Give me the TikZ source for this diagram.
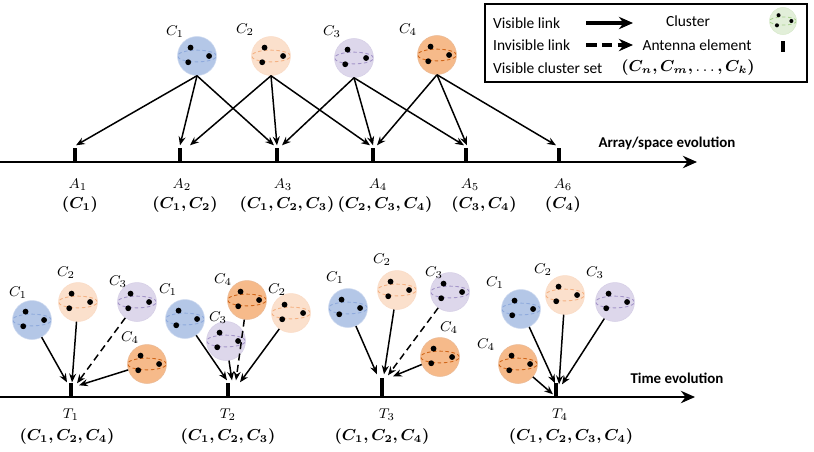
\documentclass[tikz,border=0pt]{standalone}
\usepackage{fontspec}
\setmainfont{Carlito}
\usepackage{amsmath,bm}
\usetikzlibrary{arrows.meta,calc,positioning}

\definecolor{cblue}{HTML}{B4C7E7}
\definecolor{cblued}{HTML}{8FAADC}
\definecolor{cpeach}{HTML}{FBE0CC}
\definecolor{cpeachd}{HTML}{F4B183}
\definecolor{corange}{HTML}{F6BA8A}
\definecolor{coranged}{HTML}{D0661A}
\definecolor{cviolet}{HTML}{DDD7EB}
\definecolor{cvioletd}{HTML}{A394C8}
\definecolor{cgreen}{HTML}{E2EFD9}
\definecolor{cgreend}{HTML}{A9D18E}

\tikzset{
  clus/.style n args={3}{circle, inner sep=0pt, minimum size=2*#3, fill=#1, draw=#2!45, line width=0.3pt,
    path picture={
      \draw[#2, line width=0.5pt, dash pattern=on 2pt off 1.5pt] (path picture bounding box.center) ellipse ({#3} and {0.3*#3});
      \fill[black] ([shift={(-0.33*#3,0.43*#3)}]path picture bounding box.center) circle ({0.15*#3});
      \fill[black] ([shift={(0.62*#3,0cm)}]path picture bounding box.center) circle ({0.15*#3});
      \fill[black] ([shift={(-0.45*#3,-0.32*#3)}]path picture bounding box.center) circle ({0.15*#3});
    }},
  cb/.style={clus={cblue}{cblued}{0.39cm}},
  cp/.style={clus={cpeach}{cpeachd}{0.39cm}},
  co/.style={clus={corange}{coranged}{0.39cm}},
  cv/.style={clus={cviolet}{cvioletd}{0.39cm}},
  cg/.style={clus={cgreen}{cgreend}{0.27cm}},
  ant/.style={fill=black, inner sep=0pt, minimum width=0.075cm, minimum height=0.28cm, anchor=south},
  axis/.style={line width=1.3pt, -{Stealth[length=8pt,width=7pt]}},
  vis/.style={line width=0.85pt, -{Stealth[length=5pt,width=4pt]}},
  invis/.style={vis, dash pattern=on 4pt off 2.5pt},
  legarr/.style={line width=1.8pt, -{Stealth[length=8pt,width=7pt]}},
  lbl/.style={font=\fontsize{8.5}{9}\selectfont, inner sep=1pt},
  sett/.style={font=\fontsize{9}{10}\selectfont, inner sep=1pt},
  txt/.style={font=\fontsize{8.8}{10}\selectfont, inner sep=1pt},
  leg/.style={txt, anchor=west},
  axlbl/.style={font=\bfseries\fontsize{8.5}{10}\selectfont, inner sep=1pt}
}

\begin{document}
\begin{tikzpicture}[x=0.02cm, y=-0.02cm]
\useasboundingbox (0,0) rectangle (814,451);

% legend
\coordinate (lgA) at (485,4); \coordinate (lgB) at (807,82);
\draw[line width=0.9pt] (lgA) rectangle (lgB);
\node[leg] (lg1) at (491,23) {Visible link};
\node[leg] (lg2) at (491,45) {Invisible link};
\node[leg] (lg3) at (491,68) {Visible cluster set};
\coordinate (lv1) at (586,23); \coordinate (lv2) at (633,23);
\draw[legarr] (lv1) -- (lv2);
\coordinate (li1) at (586,45); \coordinate (li2) at (633,45);
\draw[legarr, dash pattern=on 6pt off 3pt] (li1) -- (li2);
\node[txt] (lg4) at (688,21) {Cluster};
\node[txt] (lg5) at (697,45) {Antenna element};
\node[sett] (lg6) at (688,68) {$\bm{(C_n, C_m,} \ldots \bm{, C_k)}$};
\node[cg] (lgc) at (783,21) {};
\node[ant, minimum height=0.21cm] (lga) at (783,52) {};

% array / space evolution
\coordinate (s0) at (0,162); \coordinate (s1) at (697,162);
\draw[axis] (s0) -- (s1);
\node[axlbl] (st) at (667,143) {Array/space evolution};

\node[ant] (a1) at (75,162) {};
\node[ant] (a2) at (180,162) {};
\node[ant] (a3) at (277,162) {};
\node[ant] (a4) at (373,162) {};
\node[ant] (a5) at (466,162) {};
\node[ant] (a6) at (559,162) {};

\node[lbl] (la1) at (78,185) {$A_1$};
\node[lbl] (la2) at (182,185) {$A_2$};
\node[lbl] (la3) at (283,185) {$A_3$};
\node[lbl] (la4) at (378,185) {$A_4$};
\node[lbl] (la5) at (470,185) {$A_5$};
\node[lbl] (la6) at (563,185) {$A_6$};
\node[sett] (sa1) at (80,205) {$\bm{(C_1)}$};
\node[sett] (sa2) at (185,205) {$\bm{(C_1, C_2)}$};
\node[sett] (sa3) at (287,205) {$\bm{(C_1, C_2, C_3)}$};
\node[sett] (sa4) at (385,205) {$\bm{(C_2, C_3, C_4)}$};
\node[sett] (sa5) at (484,205) {$\bm{(C_3, C_4)}$};
\node[sett] (sa6) at (563,205) {$\bm{(C_4)}$};

\node[cb] (c1) at (197,56) {};
\node[cp] (c2) at (271,56) {};
\node[cv] (c3) at (354,58) {};
\node[co] (c4) at (437,55) {};
\node[lbl] (lc1) at (175,32) {$C_1$};
\node[lbl] (lc2) at (245,30) {$C_2$};
\node[lbl] (lc3) at (332,32) {$C_3$};
\node[lbl] (lc4) at (408,30) {$C_4$};

\draw[vis] (c1.south) -- ($(a1.north)+(1,-2)$);
\draw[vis] (c1.south) -- ($(a2.north)+(0,-2)$);
\draw[vis] (c1.south) -- ($(a3.north)+(-3,-2)$);
\draw[vis] (c2.south) -- ($(a2.north)+(10,-2)$);
\draw[vis] (c2.south) -- ($(a3.north)+(0,-2)$);
\draw[vis] (c2.south) -- ($(a4.north)+(-3,-2)$);
\draw[vis] (c3.south) -- ($(a3.north)+(5,-2)$);
\draw[vis] (c3.south) -- ($(a4.north)+(0,-2)$);
\draw[vis] (c3.south) -- ($(a5.north)+(-2,-2)$);
\draw[vis] (c4.south) -- ($(a4.north)+(4,-2)$);
\draw[vis] (c4.south) -- ($(a5.north)+(1,-2)$);
\draw[vis] (c4.south) -- ($(a6.north)+(-3,-2)$);

% time evolution
\coordinate (u0) at (0,397); \coordinate (u1) at (695,397);
\draw[axis] (u0) -- (u1);
\node[axlbl] (ut) at (677,378) {Time evolution};

\node[ant] (t1) at (71,397) {};
\node[ant] (t2) at (228,397) {};
\node[ant, minimum height=0.38cm] (t3) at (382,397) {};
\node[ant] (t4) at (556,397) {};

\node[lbl] (lt1) at (71,415) {$T_1$};
\node[lbl] (lt2) at (228,415) {$T_2$};
\node[lbl] (lt3) at (387,415) {$T_3$};
\node[lbl] (lt4) at (560,415) {$T_4$};
\node[sett] (st1) at (67,437) {$\bm{(C_1, C_2, C_4)}$};
\node[sett] (st2) at (228,437) {$\bm{(C_1, C_2, C_3)}$};
\node[sett] (st3) at (382,437) {$\bm{(C_1, C_2, C_4)}$};
\node[sett] (st4) at (571,437) {$\bm{(C_1, C_2, C_3, C_4)}$};

% T1
\node[cb] (t1c1) at (32,320) {};
\node[cp] (t1c2) at (78,302) {};
\node[cv] (t1c3) at (137,302) {};
\node[co] (t1c4) at (147,364) {};
\node[lbl] (l1c1) at (18,293) {$C_1$};
\node[lbl] (l1c2) at (66,273) {$C_2$};
\node[lbl] (l1c3) at (118,282) {$C_3$};
\node[lbl] (l1c4) at (130,338) {$C_4$};
\draw[vis] (t1c1) -- ($(t1.north)+(-4,0)$);
\draw[vis] (t1c2) -- ($(t1.north)+(1,0)$);
\draw[invis] (t1c3) -- ($(t1.north)+(6,1)$);
\draw[vis] (t1c4) -- ($(t1.north)+(8,3)$);

% T2
\node[cb] (t2c1) at (185,319) {};
\node[co] (t2c4) at (247,300) {};
\node[cv] (t2c3) at (226,341) {};
\node[cp] (t2c2) at (291,313) {};
\node[lbl] (l2c1) at (168,290) {$C_1$};
\node[lbl] (l2c4) at (223,280) {$C_4$};
\node[lbl] (l2c3) at (218,318) {$C_3$};
\node[lbl] (l2c2) at (277,290) {$C_2$};
\draw[vis] (t2c1) -- ($(t2.north)+(-1,-2)$);
\draw[vis] (t2c3) -- ($(t2.north)+(4,-2)$);
\draw[invis] (t2c4) -- ($(t2.north)+(8,-2)$);
\draw[vis] (t2c2) -- ($(t2.north)+(12,0)$);

% T3
\node[cb] (t3c1) at (348,308) {};
\node[cp] (t3c2) at (397,290) {};
\node[cv] (t3c3) at (450,292) {};
\node[co] (t3c4) at (440,357) {};
\node[lbl] (l3c1) at (335,278) {$C_1$};
\node[lbl] (l3c2) at (382,260) {$C_2$};
\node[lbl] (l3c3) at (434,273) {$C_3$};
\node[lbl] (l3c4) at (449,328) {$C_4$};
\draw[vis] (t3c1) -- ($(t3.north)+(-5,-3)$);
\draw[vis] (t3c2) -- ($(t3.north)+(2,-3)$);
\draw[invis] (t3c3) -- ($(t3.north)+(6,-2)$);
\draw[vis] (t3c4) -- ($(t3.north)+(11,-1)$);

% T4
\node[cb] (t4c1) at (521,309) {};
\node[cp] (t4c2) at (565,295) {};
\node[cv] (t4c3) at (615,302) {};
\node[co] (t4c4) at (518,364) {};
\node[lbl] (l4c1) at (495,283) {$C_1$};
\node[lbl] (l4c2) at (543,270) {$C_2$};
\node[lbl] (l4c3) at (595,273) {$C_3$};
\node[lbl] (l4c4) at (486,345) {$C_4$};
\draw[vis] (t4c1) -- ($(t4.north)+(-1,1)$);
\draw[vis] (t4c2) -- ($(t4.north)+(3,2)$);
\draw[vis] (t4c3) -- ($(t4.north)+(6,2)$);
\draw[vis] (t4c4) -- ($(t4.north)+(-3,12)$);
\end{tikzpicture}
\end{document}
